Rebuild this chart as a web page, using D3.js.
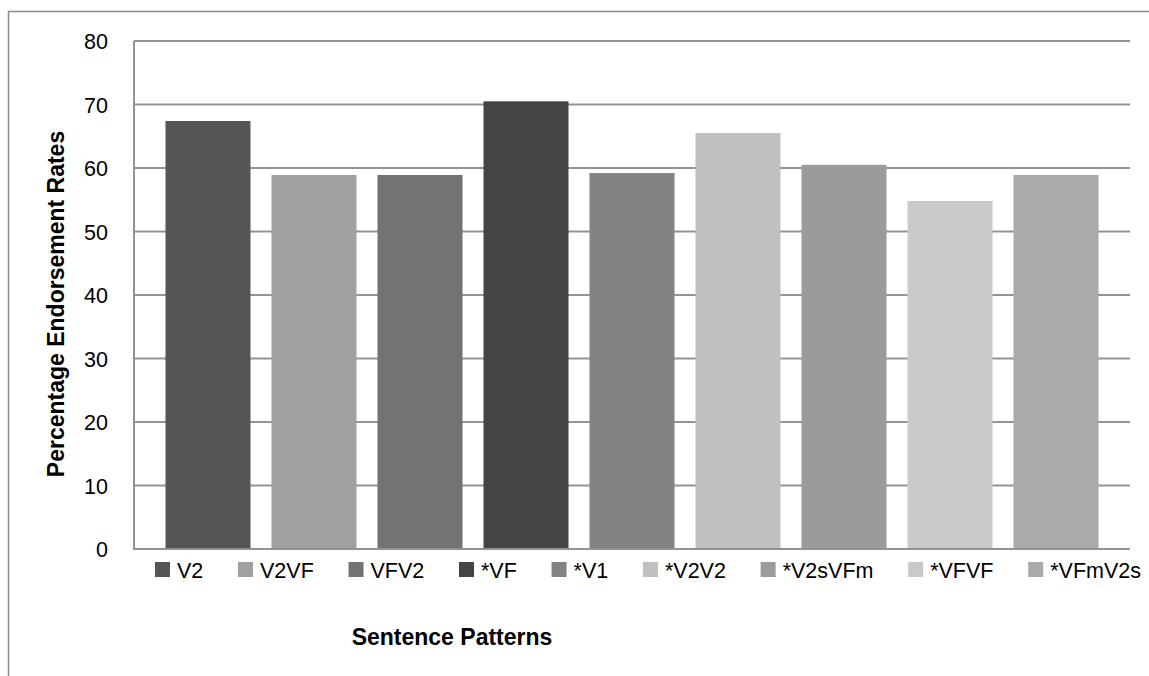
<!DOCTYPE html>
<html>
<head>
<meta charset="utf-8">
<script src="https://cdn.jsdelivr.net/npm/d3@7"></script>
<style>
  html, body { margin: 0; padding: 0; background: #fff; }
  svg { display: block; }
  text { font-family: "Liberation Sans", Arial, sans-serif; fill: #000; }
</style>
</head>
<body>
<svg id="chart" width="1149" height="676"></svg>
<script>
// Sentence patterns and their endorsement rates (%)
const patterns = ["V2", "V2VF", "VFV2", "*VF", "*V1", "*V2V2", "*V2sVFm", "*VFVF", "*VFmV2s"];
const rates = [67.4, 58.9, 58.9, 70.5, 59.2, 65.5, 60.5, 54.8, 58.9];
const shades = ["#555555", "#a0a0a0", "#737373", "#444444", "#838383", "#c0c0c0", "#9b9b9b", "#c9c9c9", "#aaaaaa"];
const yTicks = [0, 10, 20, 30, 40, 50, 60, 70, 80];

const svg = d3.select("#chart");
const plot = { left: 134, right: 1130, top: 41, bottom: 549 };

// outer chart frame (clipped at right and bottom edges)
svg.append("path")
  .attr("d", "M8.5,676 L8.5,11.5 L1149,11.5")
  .attr("fill", "none")
  .attr("stroke", "#8a8a8a")
  .attr("stroke-width", 1.5);

const x = d3.scaleBand()
  .domain(patterns)
  .range([plot.left, plot.right])
  .paddingInner(0.198)
  .paddingOuter(0.297);

const y = d3.scaleLinear()
  .domain([0, 80])
  .range([plot.bottom, plot.top]);

// horizontal gridlines
svg.append("g")
  .selectAll("line")
  .data(yTicks.filter(d => d > 0))
  .join("line")
  .attr("x1", plot.left)
  .attr("x2", plot.right)
  .attr("y1", d => y(d))
  .attr("y2", d => y(d))
  .attr("stroke", "#939393")
  .attr("stroke-width", 2);

// y axis: labels only, line drawn separately
const yAxis = svg.append("g")
  .attr("transform", `translate(${plot.left},0)`)
  .call(d3.axisLeft(y).tickValues(yTicks).tickSize(0).tickPadding(26));
yAxis.select(".domain").remove();
yAxis.selectAll("text")
  .attr("font-family", "Liberation Sans, Arial, sans-serif")
  .attr("font-size", 21.5)
  .attr("fill", "#000")
  .attr("dy", "0.36em");

// bars
svg.append("g")
  .selectAll("rect")
  .data(patterns)
  .join("rect")
  .attr("x", d => x(d))
  .attr("width", x.bandwidth())
  .attr("y", (d, i) => y(rates[i]))
  .attr("height", (d, i) => y(0) - y(rates[i]))
  .attr("fill", (d, i) => shades[i]);

// axis lines
svg.append("line")
  .attr("x1", plot.left).attr("x2", plot.left)
  .attr("y1", plot.top).attr("y2", plot.bottom + 1)
  .attr("stroke", "#939393").attr("stroke-width", 2);
svg.append("line")
  .attr("x1", plot.left).attr("x2", plot.right)
  .attr("y1", plot.bottom).attr("y2", plot.bottom)
  .attr("stroke", "#939393").attr("stroke-width", 2);

// legend
const legend = svg.append("g");
const items = legend.selectAll("g")
  .data(patterns)
  .join("g");
items.append("rect")
  .attr("width", 15).attr("height", 15)
  .attr("y", 562)
  .attr("fill", (d, i) => shades[i]);
items.append("text")
  .attr("x", 22)
  .attr("y", 577.5)
  .attr("font-size", 21.5)
  .text(d => d);

const widths = [];
items.each(function () {
  widths.push(22 + d3.select(this).select("text").node().getComputedTextLength());
});
const legendStart = 155, legendEnd = 1141;
const gap = (legendEnd - legendStart - d3.sum(widths)) / (patterns.length - 1);
let cursor = legendStart;
items.attr("transform", (d, i) => {
  const t = `translate(${cursor},0)`;
  cursor += widths[i] + gap;
  return t;
});

// axis titles
svg.append("text")
  .attr("x", 452)
  .attr("y", 645)
  .attr("text-anchor", "middle")
  .attr("font-weight", "bold")
  .attr("font-size", 23)
  .text("Sentence Patterns");

svg.append("text")
  .attr("transform", "translate(64,304) rotate(-90)")
  .attr("text-anchor", "middle")
  .attr("font-weight", "bold")
  .attr("font-size", 23)
  .text("Percentage Endorsement Rates");
</script>
</body>
</html>
